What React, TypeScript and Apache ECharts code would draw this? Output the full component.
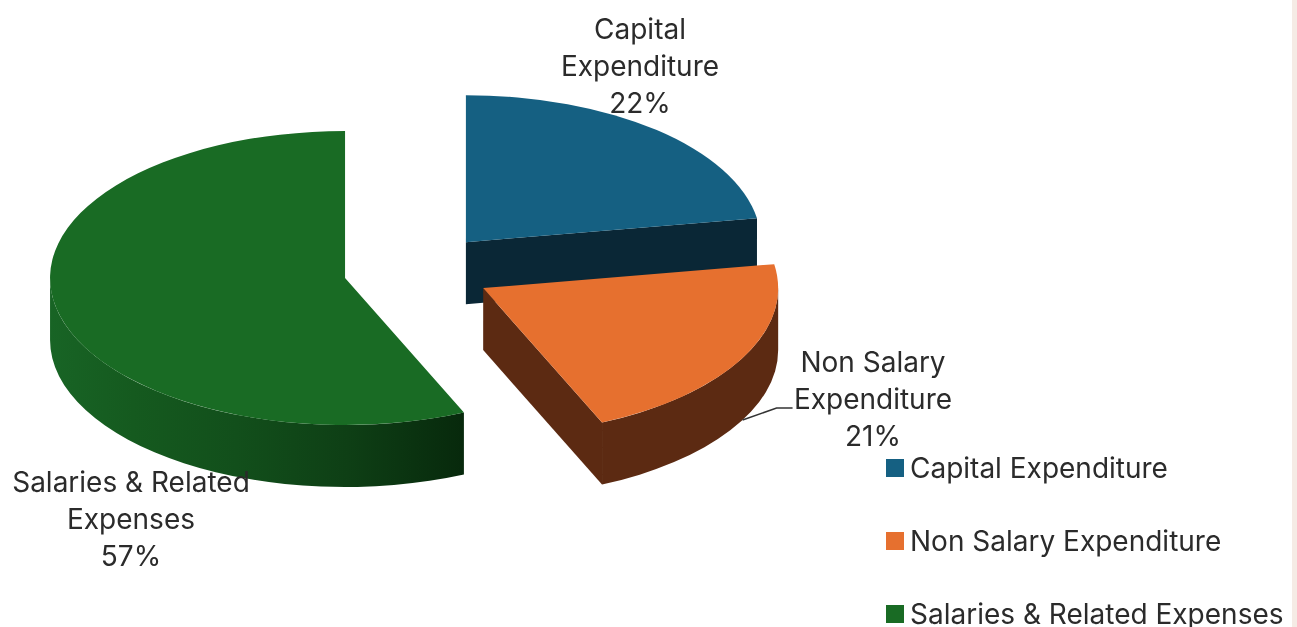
import React, { useEffect, useRef } from "react";
import * as echarts from "echarts";

const categories = ["Capital Expenditure", "Non Salary Expenditure", "Salaries & Related Expenses"];
const labelNames = ["Capital\nExpenditure", "Non Salary\nExpenditure", "Salaries & Related\nExpenses"];
const shareValues = [22.4, 21.0, 56.6];

const topColors = ["#156082", "#E6702F", "#196B24"];
const sideColors = ["#0A2736", "#5C2A12", "#196B24"];
const FONT = "Inter, sans-serif";
const INK = "#2b2b2b";

const RX = 295;
const RY = 147;
const DEPTH = 62;
const EXPLODE = 0.252;
const CX = 417.8;
const CY = 270.4;
const labelCenters = [
  [640, 66],
  [873, 399],
  [131, 519],
];
const leaderIndex = 1;

const total = shareValues.reduce((a, b) => a + b, 0);
const toAngle = (v: number) => (v / total) * Math.PI * 2;

function renderSlice(index: number) {
  return (_params: any, api: any) => {
    const value = api.value(0);
    let before = 0;
    for (let i = 0; i < index; i++) before += shareValues[i];
    const a0 = toAngle(before);
    const a1 = a0 + toAngle(value);
    const mid = (a0 + a1) / 2;
    const cx = CX + EXPLODE * RX * Math.sin(mid);
    const cy = CY - EXPLODE * RY * Math.cos(mid);
    const pt = (a: number, dz = 0): [number, number] => [cx + RX * Math.sin(a), cy - RY * Math.cos(a) + dz];
    const f = (p: number[]) => `${p[0].toFixed(2)} ${p[1].toFixed(2)}`;
    const children: any[] = [];

    // outer wall, front half only
    const s0 = Math.max(a0, Math.PI / 2);
    const s1 = Math.min(a1, (Math.PI * 3) / 2);
    if (s1 > s0) {
      const large = s1 - s0 > Math.PI ? 1 : 0;
      const d =
        `M ${f(pt(s0))} A ${RX} ${RY} 0 ${large} 1 ${f(pt(s1))} ` +
        `L ${f(pt(s1, DEPTH))} A ${RX} ${RY} 0 ${large} 0 ${f(pt(s0, DEPTH))} Z`;
      const fill =
        index === 2
          ? new echarts.graphic.LinearGradient(0, 0, 1, 0, [
              { offset: 0, color: "#186425" },
              { offset: 0.2, color: "#155A1F" },
              { offset: 0.45, color: "#124F1B" },
              { offset: 0.72, color: "#0E3F15" },
              { offset: 1, color: "#07290C" },
            ])
          : sideColors[index];
      children.push({ type: "path", shape: { pathData: d }, style: { fill } });
    }

    // cut face facing the viewer
    const faceAngle = Math.sin(a1) > 1e-6 ? a1 : Math.sin(a0) < -1e-6 ? a0 : null;
    if (faceAngle !== null) {
      const c = [cx, cy];
      const cd = [cx, cy + DEPTH];
      const d = `M ${f(c)} L ${f(pt(faceAngle))} L ${f(pt(faceAngle, DEPTH))} L ${f(cd)} Z`;
      const fill = index === 2 ? "#07290C" : sideColors[index];
      children.push({ type: "path", shape: { pathData: d }, style: { fill } });
    }

    // top face
    const largeTop = a1 - a0 > Math.PI ? 1 : 0;
    children.push({
      type: "path",
      shape: { pathData: `M ${f([cx, cy])} L ${f(pt(a0))} A ${RX} ${RY} 0 ${largeTop} 1 ${f(pt(a1))} Z` },
      style: { fill: topColors[index] },
    });

    // leader line from the wall to the label
    if (index === leaderIndex) {
      const start = pt(mid, DEPTH);
      children.push({
        type: "polyline",
        shape: {
          points: [start, [start[0] + 34, start[1] - 12], [start[0] + 50, start[1] - 12]],
        },
        style: { stroke: "#333333", lineWidth: 1.5, fill: "none" },
      });
    }

    // data label
    children.push({
      type: "text",
      style: {
        text: `${labelNames[index]}\n${Math.round((value / total) * 100)}%`,
        x: labelCenters[index][0],
        y: labelCenters[index][1],
        align: "center",
        verticalAlign: "middle",
        fontFamily: FONT,
        fontSize: 28,
        lineHeight: 37,
        fill: INK,
      },
    });

    return { type: "group", children };
  };
}

export default function App() {
  const ref = useRef<HTMLDivElement>(null);
  useEffect(() => {
    document.body.style.margin = "0";
    document.body.style.overflow = "hidden";
    const chart = echarts.init(ref.current!, undefined, { renderer: "svg" });
    chart.setOption({
      animation: false,
      backgroundColor: "#ffffff",
      graphic: [
        {
          type: "rect",
          right: 0,
          top: 0,
          shape: { width: 5, height: 627 },
          style: { fill: "#F5EBE5" },
        },
      ],
      legend: {
        show: true,
        orient: "vertical",
        left: 881,
        top: 448,
        height: 300,
        itemWidth: 18,
        itemHeight: 18,
        itemGap: 43,
        icon: "rect",
        selectedMode: false,
        data: categories,
        textStyle: { fontFamily: FONT, fontSize: 28, lineHeight: 30, color: INK, padding: [0, 0, 0, 1] },
      },
      series: categories.map((name, i) => ({
        type: "custom",
        name,
        coordinateSystem: "none",
        silent: true,
        clip: false,
        itemStyle: { color: topColors[i] },
        data: [[shareValues[i]]],
        renderItem: renderSlice(i),
      })),
    });
    return () => chart.dispose();
  }, []);
  return <div ref={ref} style={{ width: 1297, height: 627, filter: "blur(0.5px)" }} />;
}
